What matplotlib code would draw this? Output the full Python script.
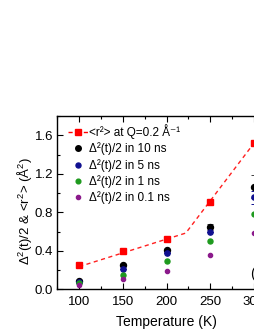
import matplotlib
matplotlib.use("Agg")
import matplotlib.pyplot as plt
from matplotlib.ticker import MultipleLocator, FormatStrFormatter

plt.rcParams['font.family'] = ['Liberation Sans', 'DejaVu Sans']
plt.rcParams['mathtext.fontset'] = 'custom'
plt.rcParams['mathtext.rm'] = 'Liberation Sans'
plt.rcParams['mathtext.it'] = 'Liberation Sans:italic'
plt.rcParams['mathtext.default'] = 'regular'

temps = [100, 150, 200, 250, 300]
r2 = [0.25, 0.397, 0.525, 0.905, 1.517]
fit_x = [100, 222, 300]
fit_y = [0.236, 0.585, 1.52]
d10 = [0.09, 0.25, 0.41, 0.647, 1.065]
d10_err = [0.0, 0.0, 0.0, 0.03, 0.12]
d5 = [0.08, 0.212, 0.376, 0.595, 0.956]
d5_err = [0.0, 0.0, 0.0, 0.0, 0.07]
d1 = [0.063, 0.152, 0.295, 0.507, 0.786]
d01 = [0.05, 0.107, 0.188, 0.355, 0.59]
labels = ['<r²> at Q=0.2 Å⁻¹',
          'Δ²(t)/2 in 10 ns',
          'Δ²(t)/2 in 5 ns',
          'Δ²(t)/2 in 1 ns',
          'Δ²(t)/2 in 0.1 ns']

fig = plt.figure(figsize=(2.55, 3.30), dpi=100)
ax = fig.add_axes([0.2247, 0.1233, 0.857, 0.5245])

ax.plot(fit_x, fit_y, color='#ff2020', lw=1.0, ls=(0, (3, 2.5)), zorder=2)
ax.plot(temps, r2, ls='none', marker='s', ms=5, color='#ff0000', zorder=3)
h_red, = ax.plot([], [], color='#ff0000', lw=1.0, ls=(0, (3, 2.5)), marker='s', ms=5)

ax.errorbar(temps, d10, yerr=d10_err, fmt='o', ms=4.3, color='black',
            ecolor='#404040', elinewidth=0.7, capsize=2, capthick=0.7, zorder=4)
ax.errorbar(temps, d5, yerr=d5_err, fmt='o', ms=3.8, color='#101090',
            ecolor='#101090', elinewidth=0.7, capsize=2, capthick=0.7, zorder=5)
ax.plot(temps, d1, ls='none', marker='o', ms=3.6, color='#1e9a1e', zorder=6)
ax.plot(temps, d01, ls='none', marker='o', ms=3.0, color='#8b1a8b', zorder=7)

h10, = ax.plot([], [], ls='none', marker='o', ms=4.0, color='black')
h5, = ax.plot([], [], ls='none', marker='o', ms=3.6, color='#101090')
h1, = ax.plot([], [], ls='none', marker='o', ms=3.4, color='#1e9a1e')
h01, = ax.plot([], [], ls='none', marker='o', ms=3.0, color='#8b1a8b')

ax.legend([h_red, h10, h5, h1, h01], labels,
          loc='upper left', bbox_to_anchor=(0.048, 0.955), frameon=False,
          fontsize=8.5, borderpad=0, borderaxespad=0, handlelength=1.7,
          handletextpad=0.1, labelspacing=0.3)

ax.text(295.5, 0.16, '(b)', fontsize=10, va='center', ha='left')

ax.set_xlim(75, 325)
ax.set_ylim(0, 1.8)
ax.xaxis.set_major_locator(MultipleLocator(50))
ax.xaxis.set_minor_locator(MultipleLocator(25))
ax.yaxis.set_major_locator(MultipleLocator(0.4))
ax.yaxis.set_minor_locator(MultipleLocator(0.2))
ax.tick_params(which='both', direction='in', top=True, right=True, labelsize=9.5,
               width=0.8, pad=3)
ax.tick_params(axis='x', which='major', pad=4.5)
ax.tick_params(which='major', length=4)
ax.tick_params(which='minor', length=2)
ax.yaxis.set_major_formatter(FormatStrFormatter('%.1f'))
for s in ax.spines.values():
    s.set_linewidth(1.0)

ax.set_xlabel('Temperature (K)', fontsize=10, labelpad=5)
ax.set_ylabel(r'$\Delta^2$(t)/2 & <r$^2$> (Å$^2$)', fontsize=9.5)
ax.yaxis.set_label_coords(-0.106, 0.454)

fig.savefig('out.png', dpi=100)
